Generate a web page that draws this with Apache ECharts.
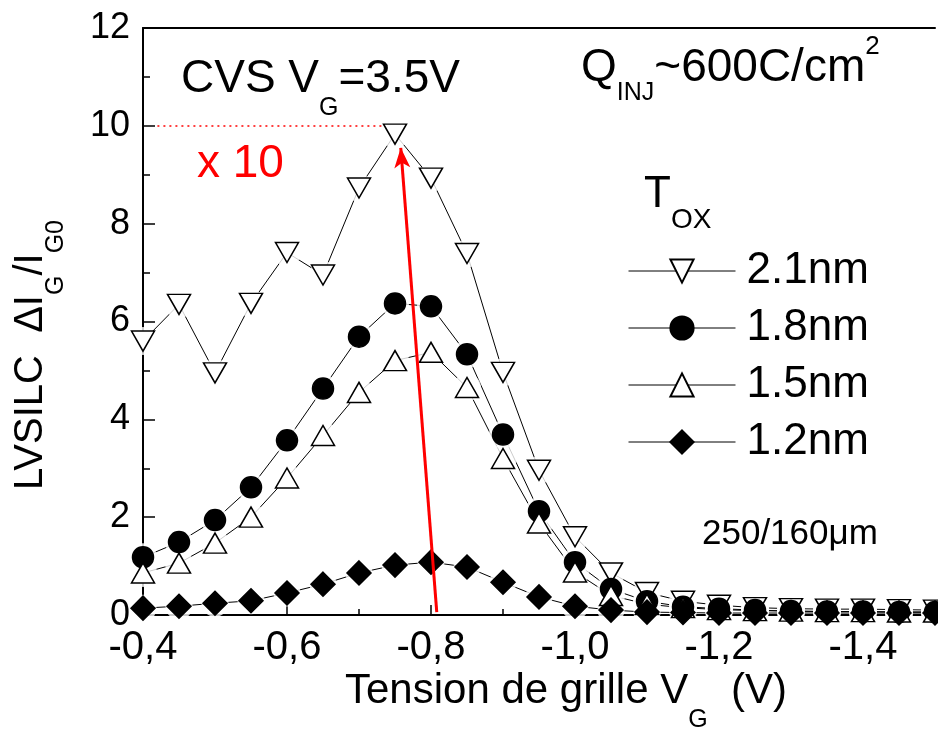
<!DOCTYPE html>
<html><head><meta charset="utf-8">
<script src="https://cdn.jsdelivr.net/npm/echarts@6/dist/echarts.min.js"></script>
<style>html,body{margin:0;padding:0;background:#fff}#c{width:938px;height:729px}</style>
</head><body><div id="c"></div>
<script>
// ---- data ----
const vg = [-0.40,-0.45,-0.50,-0.55,-0.60,-0.65,-0.70,-0.75,-0.80,-0.85,-0.90,-0.95,-1.00,-1.05,-1.10,-1.15,-1.20,-1.25,-1.30,-1.35,-1.40,-1.45,-1.50];
const tox21 = [5.60,6.35,4.95,6.37,7.41,6.95,8.73,9.83,8.93,7.39,4.96,2.96,1.60,0.86,0.46,0.28,0.20,0.15,0.13,0.12,0.12,0.11,0.10];
const tox18 = [1.18,1.49,1.94,2.61,3.57,4.63,5.69,6.37,6.31,5.33,3.69,2.12,1.08,0.53,0.28,0.17,0.13,0.10,0.08,0.07,0.07,0.06,0.06];
const tox15 = [0.86,1.06,1.47,2.00,2.80,3.67,4.55,5.20,5.37,4.65,3.20,1.88,0.88,0.40,0.22,0.15,0.11,0.09,0.08,0.07,0.07,0.06,0.06];
const tox12 = [0.14,0.18,0.24,0.29,0.45,0.63,0.86,1.02,1.08,0.98,0.67,0.37,0.18,0.10,0.06,0.05,0.04,0.04,0.04,0.04,0.04,0.04,0.04];
const names = ['2.1nm','1.8nm','1.5nm','1.2nm'];
const values = [tox21, tox18, tox15, tox12];
// annotation coordinates (data space)
const dottedFrom = [-0.42, 10], dottedTo = [-0.732, 10];
const arrowFrom = [-0.808, 0.06], arrowTo = [-0.758, 9.55];

const FONT = 'Liberation Sans, Arial, sans-serif';
const markerStyles = [
  {symbol:'triangle', size:[23,20], rotate:180, fill:'#fff', halo:28},
  {symbol:'circle', size:21, rotate:0, fill:'#000', halo:28},
  {symbol:'triangle', size:[23,20], rotate:0, fill:'#fff', halo:28},
  {symbol:'diamond', size:[24,24], rotate:0, fill:'#000', halo:27}
];

const series = [];
names.forEach((n, i) => {
  const d = vg.map((x, k) => [x, values[i][k]]);
  series.push({type:'line', name:n+'-line', data:d, symbol:'none', z:1, silent:true,
    lineStyle:{color:'#000', width:1}, animation:false});
  series.push({type:'scatter', name:n+'-halo', data:d, symbol:'circle', symbolSize:markerStyles[i].halo,
    itemStyle:{color:'#fff'}, z:2, silent:true, animation:false});
  const ms = {type:'line', name:n, data:d, symbol:markerStyles[i].symbol, symbolSize:markerStyles[i].size,
    symbolRotate:markerStyles[i].rotate, showSymbol:true, z:3, silent:true, animation:false,
    lineStyle:{opacity:0, color:'#000', width:1},
    itemStyle:{color:markerStyles[i].fill, borderColor:'#000', borderWidth:1.5, opacity:1}};
  if (i === 0) {
    ms.markLine = {silent:true, animation:false, label:{show:false},
      data:[
        [{coord:dottedFrom, symbol:'none', lineStyle:{color:'#ff0000', width:1.5, type:[2,4]}},
         {coord:dottedTo, symbol:'none'}],
        [{coord:arrowFrom, symbol:'none', lineStyle:{color:'#ff0000', width:3, type:'solid'}},
         {coord:arrowTo, symbol:'arrow', symbolSize:[12,20]}]
      ]};
  }
  series.push(ms);
});

const M = (fs, pt, col) => ({fontSize:fs, lineHeight:fs, fontFamily:FONT, fill:col||'#000', verticalAlign:'top', padding:[pt||0,0,0,0]});
function richText(x, y, text, rich, align, rotation) {
  return {type:'text', x:x, y:y, silent:true, z:50, rotation:rotation||0,
    style:{text:text, rich:rich, fill:'#000', align:align||'left', verticalAlign:'top', font:'40px '+FONT}};
}

const chart = echarts.init(document.getElementById('c'), null, {renderer:'canvas'});
chart.setOption({
  animation:false,
  backgroundColor:'#fff',
  grid:{left:143, right:0, top:28, bottom:114, containLabel:false},
  xAxis:[{
    type:'value', min:-1.5, max:-0.4, inverse:true, splitNumber:5,
    axisLine:{show:true, onZero:false, lineStyle:{color:'#000', width:2}},
    axisTick:{show:true, inside:true, length:10, lineStyle:{color:'#000', width:1.5}},
    minorTick:{show:true, splitNumber:2, length:6, lineStyle:{color:'#000', width:1.5}},
    splitLine:{show:false}, minorSplitLine:{show:false},
    axisLabel:{fontSize:40, fontFamily:FONT, color:'#000', margin:13,
      formatter:v => (v < -1.45 ? '' : v.toFixed(1).replace('.', ','))}
  },{
    type:'value', min:-1.5, max:-0.4, inverse:true, position:'top',
    axisLine:{show:true, onZero:false, lineStyle:{color:'#000', width:2}},
    axisTick:{show:false}, axisLabel:{show:false}, splitLine:{show:false}
  }],
  yAxis:{
    type:'value', min:0, max:12, interval:2,
    axisLine:{show:true, lineStyle:{color:'#000', width:2}},
    axisTick:{show:true, inside:true, length:12, lineStyle:{color:'#000', width:1.5}},
    minorTick:{show:true, splitNumber:2, length:7, lineStyle:{color:'#000', width:1.5}},
    splitLine:{show:false}, minorSplitLine:{show:false},
    axisLabel:{fontSize:36, fontFamily:FONT, color:'#000', margin:13}
  },
  legend:{
    data:names, orient:'vertical', left:628, top:249, padding:0,
    itemWidth:107, itemHeight:29, itemGap:13, selectedMode:false,
    lineStyle:{color:'#000', width:1, opacity:1, type:'solid'},
    textStyle:{fontSize:44, fontFamily:FONT, color:'#000', padding:[0,0,0,6]}
  },
  series:series,
  graphic:[
    richText(181, 56, '{m|CVS V}{s|G}{m|=3.5V}', {m:M(46), s:M(25,40)}),
    richText(581, 34, '{m|Q}{s|INJ}{m|~600C/cm}{p|2}', {m:M(46,11), s:M(25,47), p:M(26,0)}),
    richText(197, 141, '{r|x 10}', {r:M(46,0,'#ff0000')}),
    richText(702, 517, '{m|250/160μm}', {m:M(35)}),
    richText(644, 173, '{m|T}{s|OX}', {m:M(44), s:M(28,33)}),
    richText(566, 670, '{m|Tension de grille V}{s|G}{m|  (V)}', {m:M(42), s:M(25,38)}, 'center'),
    richText(11, 355, '{m|LVSILC  ΔI}{s|G}{m|/I}{s|G0}', {m:M(40), s:M(25,33)}, 'center', Math.PI/2)
  ]
});
</script></body></html>
